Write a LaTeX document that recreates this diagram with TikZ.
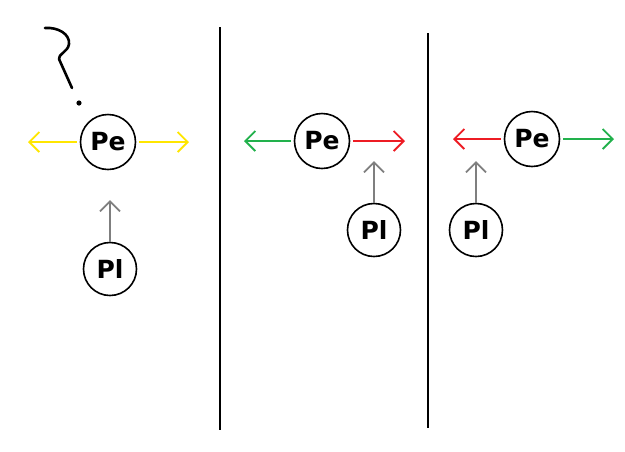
\documentclass[tikz,border=0pt]{standalone}
\usepackage{fontspec}
\setmainfont{DejaVu Sans}
\usetikzlibrary{arrows.meta}
\definecolor{pyellow}{RGB}{255,230,0}
\definecolor{pgreen}{RGB}{34,177,76}
\definecolor{pred}{RGB}{237,28,36}
\definecolor{pgray}{RGB}{127,127,127}
\tikzset{
  particle/.style={circle,draw=black,line width=1.6pt,minimum size=55pt,inner sep=0pt,font=\fontsize{25}{25}\selectfont\bfseries},
  small/.style={particle,minimum size=53pt},
  move/.style={line width=1.8pt,-{Straight Barb[length=10pt,width=20pt,line width=1.8pt]}},
  divider/.style={line width=2pt,black},
}
\begin{document}
\begin{tikzpicture}[x=1pt,y=-1pt]
\useasboundingbox (0,0) rectangle (625,451);
% panel 1
\node[particle] (pe1) at (108,142) {Pe};
\node[small] (pl1) at (110,269) {Pl};
\coordinate (yl) at (28,142);
\coordinate (yr) at (189,142);
\coordinate (g1) at (110,200);
\draw[move,pyellow] ([xshift=-3pt]pe1.west) -- (yl);
\draw[move,pyellow] ([xshift=3pt]pe1.east) -- (yr);
\draw[move,pgray] (pl1.north) -- (g1);
\draw[line width=2.6pt,line cap=round,line join=round] (45,28) .. controls (58,27) and (70,34) .. (69,44) .. controls (68,52) and (58,54) .. (59,59) -- (72,88);
\fill (79,103) circle (2.6pt);
% dividers
\coordinate (d1t) at (220,27);
\coordinate (d1b) at (220,430);
\coordinate (d2t) at (428,33);
\coordinate (d2b) at (428,428);
\draw[divider] (d1t) -- (d1b);
\draw[divider] (d2t) -- (d2b);
% panel 2
\node[particle] (pe2) at (322,141) {Pe};
\node[small] (pl2) at (374,230) {Pl};
\coordinate (gl2) at (244,141);
\coordinate (rr2) at (405,141);
\coordinate (g2) at (374,161);
\draw[move,pgreen] ([xshift=-3pt]pe2.west) -- (gl2);
\draw[move,pred] ([xshift=3pt]pe2.east) -- (rr2);
\draw[move,pgray] (pl2.north) -- (g2);
% panel 3
\node[particle] (pe3) at (532,139) {Pe};
\node[small] (pl3) at (476,230) {Pl};
\coordinate (rl3) at (453,139);
\coordinate (gr3) at (614,139);
\coordinate (g3) at (476,161);
\draw[move,pred] ([xshift=-3pt]pe3.west) -- (rl3);
\draw[move,pgreen] ([xshift=3pt]pe3.east) -- (gr3);
\draw[move,pgray] (pl3.north) -- (g3);
\end{tikzpicture}
\end{document}
